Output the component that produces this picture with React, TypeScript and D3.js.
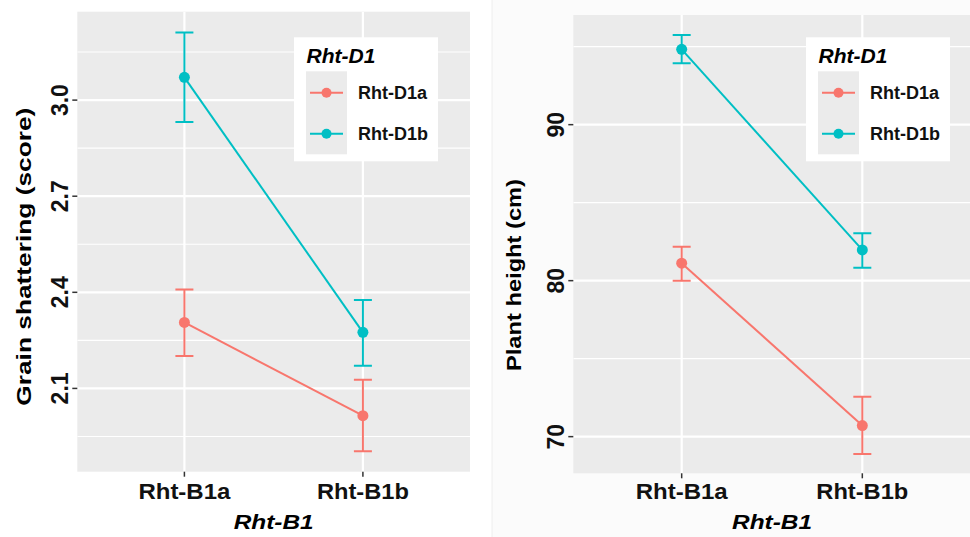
import React from "react";
import * as d3 from "d3";

// ---------- data ----------
const categories = ["Rht-B1a", "Rht-B1b"];
const groups = ["Rht-D1a", "Rht-D1b"];
const groupColors = ["#F8766D", "#00BFC4"];

// Grain shattering (score)
const shatterMeanD1a = [2.306, 2.015];
const shatterLowD1a = [2.201, 1.904];
const shatterHighD1a = [2.409, 2.127];
const shatterMeanD1b = [3.071, 2.275];
const shatterLowD1b = [2.932, 2.171];
const shatterHighD1b = [3.211, 2.376];
const shatterMajorTicks = [2.1, 2.4, 2.7, 3.0];
const shatterMinorTicks = [1.95, 2.25, 2.55, 2.85, 3.15];

// Plant height (cm)
const heightMeanD1a = [81.12, 70.71];
const heightLowD1a = [80.0, 68.89];
const heightHighD1a = [82.18, 72.56];
const heightMeanD1b = [94.83, 81.97];
const heightLowD1b = [93.94, 80.83];
const heightHighD1b = [95.75, 83.04];
const heightMajorTicks = [70, 80, 90];
const heightMinorTicks = [75, 85, 95];

const FONT = "'Liberation Sans', Arial, Helvetica, sans-serif";

type Series = { mean: number[]; low: number[]; high: number[] };

type PanelProps = {
  id: string;
  left: number;
  right: number;
  top: number;
  bottom: number;
  yDomain: [number, number];
  major: number[];
  minor: number[];
  fmt: (v: number) => string;
  series: Series[];
  yTitle: string;
  yTitleX: number;
  yTitleY: number;
  yTitleLen: number;
  legendX: number;
  legendY: number;
};

function Panel(p: PanelProps) {
  const x = d3.scaleLinear().domain([0.4, 2.6]).range([p.left, p.right]);
  const y = d3.scaleLinear().domain(p.yDomain).range([p.bottom, p.top]);
  const cx = (i: number) => x(i + 1);
  const line = d3
    .line<number>()
    .x((_, i) => cx(i))
    .y((d) => y(d));
  const clipId = `clip-${p.id}`;
  const capHalf = 9;
  const midX = (p.left + Math.min(p.right, 970)) / 2;
  const xTitleCenter = (p.left + p.right) / 2;
  return (
    <g>
      <defs>
        <clipPath id={clipId}>
          <rect x={p.left} y={p.top} width={p.right - p.left} height={p.bottom - p.top} />
        </clipPath>
      </defs>
      <rect x={p.left} y={p.top} width={p.right - p.left} height={p.bottom - p.top} fill="#EBEBEB" />
      <g clipPath={`url(#${clipId})`}>
        {p.minor.map((v) => (
          <line key={`mn${v}`} x1={p.left} x2={p.right} y1={y(v)} y2={y(v)} stroke="#FFFFFF" strokeWidth={1.1} />
        ))}
        {p.major.map((v) => (
          <line key={`mj${v}`} x1={p.left} x2={p.right} y1={y(v)} y2={y(v)} stroke="#FFFFFF" strokeWidth={2.2} />
        ))}
        {categories.map((c, i) => (
          <line key={`vx${c}`} x1={cx(i)} x2={cx(i)} y1={p.top} y2={p.bottom} stroke="#FFFFFF" strokeWidth={2.2} />
        ))}
        {p.series.map((s, gi) => (
          <g key={`s${gi}`} stroke={groupColors[gi]} fill="none" strokeWidth={2}>
            {s.mean.map((_, i) => (
              <g key={`e${i}`}>
                <line x1={cx(i)} x2={cx(i)} y1={y(s.low[i])} y2={y(s.high[i])} />
                <line x1={cx(i) - capHalf} x2={cx(i) + capHalf} y1={y(s.low[i])} y2={y(s.low[i])} />
                <line x1={cx(i) - capHalf} x2={cx(i) + capHalf} y1={y(s.high[i])} y2={y(s.high[i])} />
              </g>
            ))}
            <path d={line(s.mean) || ""} />
          </g>
        ))}
        {p.series.map((s, gi) =>
          s.mean.map((v, i) => (
            <circle key={`p${gi}-${i}`} cx={cx(i)} cy={y(v)} r={5.5} fill={groupColors[gi]} />
          ))
        )}
      </g>

      {/* legend */}
      <g transform={`translate(${p.legendX},${p.legendY})`}>
        <rect x={0} y={0} width={144} height={124} fill="#FFFFFF" />
        <text x={12.5} y={26} fontFamily={FONT} fontWeight={700} fontStyle="italic" fontSize={21} fill="#000">
          Rht-D1
        </text>
        <rect x={12} y={34} width={41} height={83} fill="#EBEBEB" />
        {groups.map((g, gi) => {
          const ky = 55.5 + gi * 41;
          return (
            <g key={g}>
              <line x1={16} x2={49} y1={ky} y2={ky} stroke={groupColors[gi]} strokeWidth={2} />
              <circle cx={32.5} cy={ky} r={5} fill={groupColors[gi]} />
              <text x={64} y={ky + 6.5} fontFamily={FONT} fontWeight={700} fontSize={18} fill="#111">
                {g}
              </text>
            </g>
          );
        })}
      </g>

      {/* y axis */}
      {p.major.map((v) => (
        <g key={`yt${v}`}>
          <line x1={p.left - 5} x2={p.left} y1={y(v)} y2={y(v)} stroke="#333" strokeWidth={1.5} />
          <text
            transform={`translate(${p.left - 9.5},${y(v)}) rotate(-90)`}
            textAnchor="middle"
            fontFamily={FONT}
            fontWeight={700}
            fontSize={23}
            fill="#111"
          >
            {p.fmt(v)}
          </text>
        </g>
      ))}
      <text
        transform={`translate(${p.yTitleX},${p.yTitleY}) rotate(-90)`}
        textAnchor="middle"
        fontFamily={FONT}
        fontWeight={700}
        fontSize={21}
        textLength={p.yTitleLen}
        lengthAdjust="spacingAndGlyphs"
        fill="#000"
      >
        {p.yTitle}
      </text>

      {/* x axis */}
      {categories.map((c, i) => (
        <g key={`xt${c}`}>
          <line x1={cx(i)} x2={cx(i)} y1={p.bottom} y2={p.bottom + 5} stroke="#333" strokeWidth={1.5} />
          <text
            x={cx(i)}
            y={499}
            textAnchor="middle"
            fontFamily={FONT}
            fontWeight={700}
            fontSize={22.5}
            textLength={92}
            lengthAdjust="spacingAndGlyphs"
            fill="#111"
          >
            {c}
          </text>
        </g>
      ))}
      <text
        x={xTitleCenter}
        y={529}
        textAnchor="middle"
        fontFamily={FONT}
        fontWeight={700}
        fontStyle="italic"
        fontSize={21}
        textLength={80}
        lengthAdjust="spacingAndGlyphs"
        fill="#000"
      >
        Rht-B1
      </text>
      <g opacity={0}>
        <text x={midX} y={0}>.</text>
      </g>
    </g>
  );
}

export default function App() {
  const shatter: Series[] = [
    { mean: shatterMeanD1a, low: shatterLowD1a, high: shatterHighD1a },
    { mean: shatterMeanD1b, low: shatterLowD1b, high: shatterHighD1b },
  ];
  const height: Series[] = [
    { mean: heightMeanD1a, low: heightLowD1a, high: heightHighD1a },
    { mean: heightMeanD1b, low: heightLowD1b, high: heightHighD1b },
  ];
  return (
    <svg
      width={970}
      height={537}
      viewBox="0 0 970 537"
      style={{ position: "absolute", left: 0, top: 0, background: "#FFFFFF" }}
    >
      <rect x={0} y={0} width={970} height={537} fill="#FFFFFF" />
      <rect x={492} y={0} width={478} height={537} fill="#FBFBFB" />
      <line x1={492} x2={492} y1={0} y2={537} stroke="#EEEEEE" strokeWidth={1} />
      <Panel
        id="left"
        left={77.3}
        right={470}
        top={11.7}
        bottom={471.7}
        yDomain={[1.84, 3.276]}
        major={shatterMajorTicks}
        minor={shatterMinorTicks}
        fmt={d3.format(".1f")}
        series={shatter}
        yTitle="Grain shattering (score)"
        yTitleX={30.5}
        yTitleY={256.7}
        yTitleLen={298}
        legendX={294}
        legendY={37.3}
      />
      <Panel
        id="right"
        left={573.3}
        right={970.7}
        top={15}
        bottom={473.3}
        yDomain={[67.65, 97.03]}
        major={heightMajorTicks}
        minor={heightMinorTicks}
        fmt={d3.format("d")}
        series={height}
        yTitle="Plant height (cm)"
        yTitleX={520.5}
        yTitleY={275}
        yTitleLen={192}
        legendX={806}
        legendY={37.3}
      />
    </svg>
  );
}
